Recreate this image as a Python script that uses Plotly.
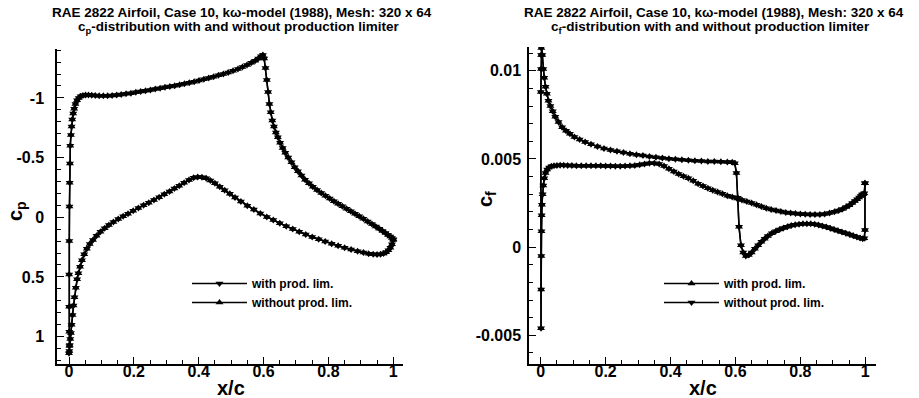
import plotly.graph_objects as go

# ---------------- Cp data (left panel) ----------------
# upper surface, leading edge -> trailing edge
cp_x_upper = [0.0, 0.0015, 0.001, 0.0005, 0.0005, 0.001, 0.0015, 0.002, 0.003, 0.004,
              0.006, 0.008, 0.010, 0.013, 0.016, 0.020, 0.025, 0.030, 0.036, 0.043,
              0.051, 0.060, 0.070, 0.081, 0.093, 0.106, 0.119, 0.133, 0.147, 0.161,
              0.176, 0.191, 0.206, 0.221, 0.236, 0.251, 0.266, 0.281, 0.296, 0.311,
              0.326, 0.341, 0.356, 0.371, 0.386, 0.401, 0.416, 0.431, 0.446, 0.461,
              0.476, 0.491, 0.506, 0.521, 0.535, 0.549, 0.562, 0.574, 0.584, 0.592,
              0.598, 0.602, 0.606, 0.610, 0.614, 0.618, 0.622, 0.627, 0.632, 0.638,
              0.644, 0.651, 0.659, 0.667, 0.676, 0.686, 0.696, 0.706, 0.717, 0.728,
              0.740, 0.752, 0.765, 0.778, 0.791, 0.804, 0.817, 0.830, 0.843, 0.856,
              0.869, 0.882, 0.895, 0.908, 0.921, 0.934, 0.946, 0.957, 0.967, 0.976,
              0.984, 0.991, 0.996, 1.0]
cp_upper = [1.14, 1.08, 0.96, 0.75, 0.48, 0.20, -0.09, -0.29, -0.45, -0.60,
            -0.69, -0.76, -0.82, -0.87, -0.91, -0.95, -0.98, -1.0, -1.013, -1.021,
            -1.025, -1.025, -1.023, -1.02, -1.018, -1.018, -1.019, -1.021, -1.025, -1.029,
            -1.034, -1.04, -1.047, -1.053, -1.06, -1.067, -1.074, -1.081, -1.089, -1.096,
            -1.103, -1.111, -1.119, -1.127, -1.136, -1.146, -1.156, -1.166, -1.177, -1.189,
            -1.201, -1.214, -1.228, -1.243, -1.259, -1.276, -1.294, -1.312, -1.33, -1.35,
            -1.36, -1.33, -1.25, -1.15, -1.05, -0.95, -0.88, -0.81, -0.76, -0.71,
            -0.67, -0.625, -0.58, -0.54, -0.5, -0.46, -0.42, -0.385, -0.35, -0.315,
            -0.285, -0.255, -0.228, -0.203, -0.18, -0.157, -0.135, -0.114, -0.093, -0.072,
            -0.05, -0.03, -0.008, 0.013, 0.035, 0.057, 0.078, 0.097, 0.115, 0.132,
            0.148, 0.162, 0.174, 0.185]
# lower surface, leading edge -> trailing edge
cp_x_lower = [0.001, 0.002, 0.004, 0.006, 0.008, 0.011, 0.014, 0.017, 0.021, 0.025,
              0.029, 0.034, 0.040, 0.047, 0.055, 0.064, 0.074, 0.085, 0.097, 0.110,
              0.123, 0.137, 0.152, 0.167, 0.182, 0.198, 0.214, 0.230, 0.246, 0.262,
              0.278, 0.294, 0.310, 0.325, 0.340, 0.355, 0.370, 0.384, 0.397, 0.410,
              0.423, 0.436, 0.450, 0.465, 0.480, 0.496, 0.512, 0.530, 0.550, 0.570,
              0.590, 0.610, 0.630, 0.650, 0.670, 0.690, 0.710, 0.730, 0.750, 0.770,
              0.790, 0.810, 0.830, 0.850, 0.870, 0.890, 0.908, 0.924, 0.938, 0.950,
              0.961, 0.970, 0.978, 0.985, 0.991, 0.996, 1.0]
cp_lower = [1.12, 1.07, 1.02, 0.97, 0.90, 0.82, 0.74, 0.67, 0.59, 0.52,
            0.47, 0.415, 0.36, 0.31, 0.265, 0.225, 0.19, 0.155, 0.122, 0.093,
            0.066, 0.04, 0.015, -0.008, -0.03, -0.055, -0.078, -0.1, -0.122, -0.145,
            -0.168, -0.192, -0.216, -0.24, -0.264, -0.289, -0.312, -0.33, -0.338, -0.336,
            -0.326, -0.308, -0.284, -0.256, -0.226, -0.196, -0.166, -0.132, -0.097, -0.064,
            -0.032, -0.003, 0.024, 0.05, 0.075, 0.099, 0.122, 0.144, 0.165, 0.185,
            0.204, 0.222, 0.239, 0.255, 0.27, 0.284, 0.296, 0.305, 0.311, 0.313,
            0.311, 0.304, 0.293, 0.277, 0.256, 0.226, 0.19]

# the two runs are indistinguishable in the reference
cp_upper_without = list(cp_upper)
cp_lower_without = list(cp_lower)

# ---------------- Cf data (right panel) ----------------
cf_x_upper = [0.0005, 0.001, 0.0015, 0.002, 0.003, 0.005, 0.008, 0.011, 0.015, 0.019,
              0.024, 0.030, 0.037, 0.045, 0.055, 0.066, 0.078, 0.090, 0.104, 0.120,
              0.137, 0.155, 0.175, 0.195, 0.215, 0.235, 0.255, 0.275, 0.295, 0.315,
              0.335, 0.355, 0.375, 0.395, 0.415, 0.435, 0.455, 0.475, 0.495, 0.515,
              0.535, 0.555, 0.575, 0.590, 0.598, 0.603, 0.607, 0.611, 0.617, 0.624,
              0.632, 0.641, 0.650, 0.660, 0.670, 0.680, 0.690, 0.700, 0.712, 0.724,
              0.736, 0.748, 0.760, 0.772, 0.784, 0.796, 0.808, 0.820, 0.832, 0.844,
              0.856, 0.868, 0.880, 0.892, 0.904, 0.916, 0.928, 0.940, 0.952, 0.963,
              0.974, 0.984, 0.992, 0.997, 0.999]
cf_upper = [0.0088, 0.0101, 0.0109, 0.0113, 0.01148, 0.0109, 0.0101, 0.0096, 0.0091, 0.0087,
            0.0083, 0.0080, 0.0077, 0.0074, 0.0071, 0.0068, 0.0066, 0.00643, 0.00625, 0.0061,
            0.00596, 0.00583, 0.00571, 0.0056, 0.00551, 0.00543, 0.00536, 0.0053, 0.00524, 0.00519,
            0.00514, 0.00509, 0.00505, 0.00501, 0.00498, 0.00495, 0.00492, 0.0049, 0.00488, 0.00486,
            0.00485, 0.00484, 0.00483, 0.00482, 0.00476, 0.0042, 0.0028, 0.00115, 0.0001, -0.0003,
            -0.0005, -0.00045, -0.0003, -0.0001, 0.0001, 0.0003, 0.00048, 0.00063, 0.00078, 0.0009,
            0.001, 0.00109, 0.00116, 0.00122, 0.00127, 0.0013, 0.00132, 0.00133, 0.00132, 0.0013,
            0.00126, 0.0012, 0.00114, 0.00107, 0.001, 0.00093, 0.00086, 0.00079, 0.00072, 0.00065,
            0.00058, 0.00052, 0.00047, 0.0005, 0.00097]
cf_x_lower = [0.001, 0.0015, 0.002, 0.0025, 0.003, 0.004, 0.006, 0.008, 0.011, 0.015,
              0.020, 0.026, 0.033, 0.041, 0.050, 0.060, 0.071, 0.083, 0.096, 0.110,
              0.125, 0.140, 0.155, 0.170, 0.185, 0.200, 0.215, 0.230, 0.245, 0.260,
              0.275, 0.290, 0.305, 0.320, 0.335, 0.350, 0.365, 0.380, 0.395, 0.410,
              0.425, 0.440, 0.455, 0.470, 0.485, 0.500, 0.515, 0.530, 0.545, 0.560,
              0.575, 0.590, 0.605, 0.620, 0.635, 0.650, 0.665, 0.680, 0.695, 0.710,
              0.725, 0.740, 0.755, 0.770, 0.785, 0.800, 0.815, 0.830, 0.845, 0.860,
              0.875, 0.890, 0.905, 0.918, 0.930, 0.941, 0.951, 0.960, 0.968, 0.975,
              0.981, 0.986, 0.990, 0.994, 0.997, 0.999]
cf_lower = [-0.0046, -0.0024, -0.0005, 0.0009, 0.0018, 0.0024, 0.0030, 0.0035, 0.0039, 0.0042,
            0.0044, 0.00452, 0.00458, 0.00462, 0.00463, 0.00464, 0.00464, 0.00463, 0.00463, 0.00462,
            0.00462, 0.00462, 0.00462, 0.00461, 0.00461, 0.0046, 0.0046, 0.00459, 0.00459, 0.0046,
            0.00461, 0.00463, 0.00467, 0.00471, 0.00475, 0.00475, 0.00471, 0.0046, 0.00444, 0.00429,
            0.00415, 0.00402, 0.0039, 0.00376, 0.0036, 0.00346, 0.00334, 0.00323, 0.00312, 0.00302,
            0.00292, 0.00284, 0.00275, 0.00267, 0.00259, 0.0025, 0.0024, 0.0023, 0.0022, 0.00213,
            0.00207, 0.00202, 0.00197, 0.00193, 0.0019, 0.00188, 0.00186, 0.00185, 0.00185, 0.00185,
            0.00188, 0.00193, 0.002, 0.00207, 0.00216, 0.00227, 0.00238, 0.0025, 0.00262, 0.00272,
            0.00281, 0.0029, 0.00298, 0.003, 0.00305, 0.00362]

cf_upper_without = list(cf_upper)
cf_lower_without = list(cf_lower)

x_ticks = [0, 0.2, 0.4, 0.6, 0.8, 1]
x_ticktext = ["0", "0.2", "0.4", "0.6", "0.8", "1"]
cp_ticks = [-1, -0.5, 0, 0.5, 1]
cp_ticktext = ["-1", "-0.5", "0", "0.5", "1"]
cf_ticks = [0.01, 0.005, 0, -0.005]
cf_ticktext = ["0.01", "0.005", "0", "-0.005"]

title_line1 = "RAE 2822 Airfoil, Case 10, k\u03c9-model (1988), Mesh: 320 x 64"
title_l2 = "c<sub>p</sub>-distribution with and without production limiter"
title_r2 = "c<sub>f</sub>-distribution with and without production limiter"

W, H = 919, 398
FONT = "Liberation Sans, Arial, Helvetica, sans-serif"


def loop(xl, yl, xu, yu, close=False):
    xs = xl[::-1] + xu
    ys = yl[::-1] + yu
    if close:
        xs = xs + [xl[-1]]
        ys = ys + [yl[-1]]
    return xs, ys


fig = go.Figure()

line = dict(color="black", width=1.5)


def add(xs, ys, name, sym, xa, ya, leg):
    fig.add_trace(go.Scatter(
        x=xs, y=ys, name=name, mode="lines+markers", line=line,
        marker=dict(symbol=sym, size=7, color="black"),
        xaxis=xa, yaxis=ya, legend=leg))


xs, ys = loop(cp_x_lower, cp_lower, cp_x_upper, cp_upper)
add(xs, ys, "with prod. lim.", "triangle-down", "x", "y", "legend")
xs, ys = loop(cp_x_lower, cp_lower_without, cp_x_upper, cp_upper_without)
add(xs, ys, "without prod. lim.", "triangle-up", "x", "y", "legend")

xs, ys = loop(cf_x_lower, cf_lower, cf_x_upper, cf_upper, close=True)
add(xs, ys, "with prod. lim.", "triangle-up", "x2", "y2", "legend2")
xs, ys = loop(cf_x_lower, cf_lower_without, cf_x_upper, cf_upper_without, close=True)
add(xs, ys, "without prod. lim.", "triangle-down", "x2", "y2", "legend2")

axis_common = dict(
    showline=True, linecolor="black", linewidth=1.5, mirror=False,
    ticks="inside", ticklen=7, tickwidth=1.3, tickcolor="black",
    showgrid=False, zeroline=False, automargin=False,
    tickfont=dict(family=FONT, size=16, color="black", weight="bold"),
    tickmode="array",
)
minor_x = dict(tick0=0, dtick=0.05, ticks="inside", ticklen=4, tickwidth=1, tickcolor="black")

fig.update_layout(
    width=W, height=H,
    margin=dict(l=0, r=0, t=0, b=0),
    paper_bgcolor="white", plot_bgcolor="white",
    font=dict(family=FONT, color="black", weight="bold"),
    showlegend=True,
    xaxis=dict(axis_common, domain=[57 / W, 403 / W], range=[-0.037, 1.03],
               tickvals=x_ticks, ticktext=x_ticktext, anchor="y",
               ticklabelstandoff=-8, minor=minor_x),
    yaxis=dict(axis_common, domain=[1 - 364 / H, 1 - 49 / H], range=[1.23, -1.41],
               tickvals=cp_ticks, ticktext=cp_ticktext, anchor="x",
               ticklabelstandoff=8,
               minor=dict(tick0=0, dtick=0.1, ticks="inside", ticklen=4,
                          tickwidth=1, tickcolor="black")),
    xaxis2=dict(axis_common, domain=[529 / W, 876 / W], range=[-0.036, 1.033],
                tickvals=x_ticks, ticktext=x_ticktext, anchor="y2",
                ticklabelstandoff=-8, minor=minor_x),
    yaxis2=dict(axis_common, domain=[1 - 364 / H, 1 - 47 / H], range=[-0.00663, 0.01135],
                tickvals=cf_ticks, ticktext=cf_ticktext, anchor="x2",
                ticklabelstandoff=3,
                minor=dict(tick0=0, dtick=0.001, ticks="inside", ticklen=4,
                           tickwidth=1, tickcolor="black")),
    legend=dict(x=187 / W, y=1 - 269 / H, xanchor="left", yanchor="top",
                bgcolor="rgba(0,0,0,0)", itemwidth=55,
                font=dict(family=FONT, size=12, color="black", weight="bold")),
    legend2=dict(x=659 / W, y=1 - 269 / H, xanchor="left", yanchor="top",
                 bgcolor="rgba(0,0,0,0)", itemwidth=55,
                 font=dict(family=FONT, size=12, color="black", weight="bold")),
)

ann_font = dict(family=FONT, size=13.5, color="black", weight="bold")


def ann(text, xp, yp, font, **kw):
    fig.add_annotation(text=text, x=xp / W, y=1 - yp / H, xref="paper", yref="paper",
                       showarrow=False, font=font, xanchor="center", yanchor="middle", **kw)


ann(title_line1, 242, 12, ann_font)
ann(title_l2, 238, 28, ann_font)
ann(title_line1, 714, 12, ann_font)
ann(title_r2, 710, 28, ann_font)

tfont = dict(family=FONT, size=20, color="black", weight="bold")
ann("x/c", 231, 388, tfont)
ann("x/c", 703, 388, tfont)
ann("c<sub>p</sub>", 16, 211, tfont, textangle=-90)
ann("c<sub>f</sub>", 486, 199, tfont, textangle=-90)

fig.write_html("out.html")
